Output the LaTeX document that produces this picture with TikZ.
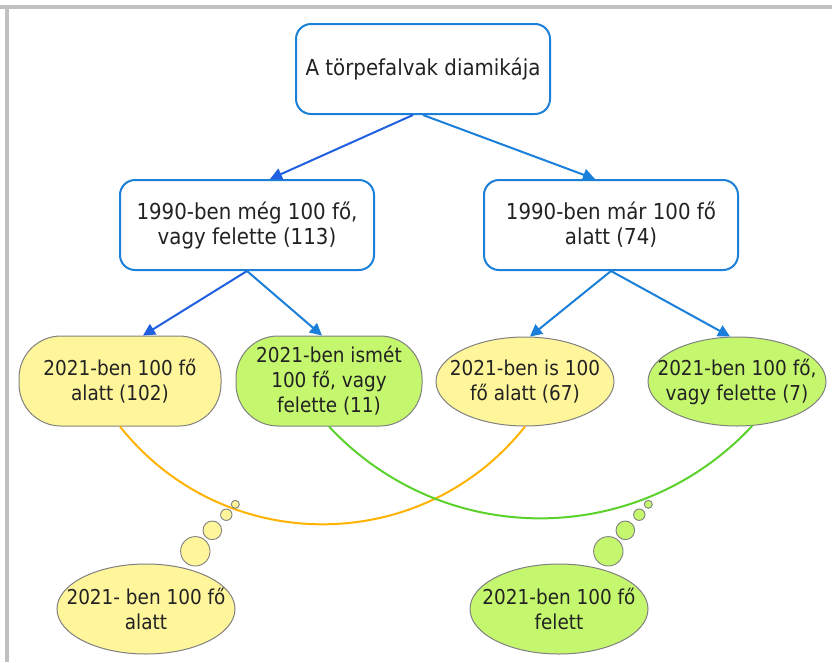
\documentclass[tikz,border=0pt]{standalone}
\usepackage{fontspec}
\setmainfont{DejaVu Sans}[FakeStretch=0.9]
\usetikzlibrary{arrows.meta,shapes.geometric}
\definecolor{boxblue}{RGB}{27,128,214}
\definecolor{darkblue}{RGB}{31,95,224}
\definecolor{lightblue}{RGB}{26,127,216}
\definecolor{yfill}{RGB}{255,246,155}
\definecolor{gfill}{RGB}{196,247,110}
\definecolor{oarc}{RGB}{255,178,0}
\definecolor{garc}{RGB}{91,210,44}
\definecolor{shapegray}{RGB}{128,128,128}
\definecolor{framegray}{RGB}{192,192,192}
\definecolor{txt}{RGB}{34,34,34}
\begin{document}
\begin{tikzpicture}[x=1pt,y=-1pt,
  bluebox/.style={draw=boxblue,line width=2pt,rounded corners=15pt,minimum width=254pt,minimum height=90pt,inner sep=0pt,align=center,text=txt,font=\fontsize{22}{25}\selectfont},
  pill/.style={draw=shapegray,line width=1pt,rounded corners=42pt,minimum height=90pt,inner sep=0pt,align=center,text=txt,font=\fontsize{20.5}{25}\selectfont},
  ell/.style={ellipse,draw=shapegray,line width=1pt,minimum width=178pt,minimum height=89pt,inner sep=0pt},
  lbl/.style={align=center,text=txt,font=\fontsize{20.5}{25}\selectfont},
  bub/.style={circle,draw=shapegray,line width=0.9pt,inner sep=0pt},
  arrdark/.style={draw=darkblue,line width=2pt,-{Triangle[length=12pt,width=12pt]}},
  arrlight/.style={draw=lightblue,line width=2pt,-{Triangle[length=12pt,width=12pt]}},
  arcline/.style={line width=2pt}
]
\useasboundingbox (0,0) rectangle (832,662);
% frame
\draw[framegray,line width=3.5pt] (0,7) -- (832,7);
\draw[framegray,line width=3.5pt] (7,7) -- (7,662);

% boxes
\node[bluebox] (top) at (423,69) {A törpefalvak diamikája};
\node[bluebox] (lb) at (247,225) {1990-ben még 100 fő,\\vagy felette (113)};
\node[bluebox] (rb) at (611,225) {1990-ben már 100 fő\\alatt (74)};

% row 3
\node[pill,fill=yfill,minimum width=202pt] (y1) at (120,381) {2021-ben 100 fő\\alatt (102)};
\node[pill,fill=gfill,minimum width=186pt] (g1) at (329,381) {2021-ben ismét\\100 fő, vagy\\felette (11)};
\node[ell,fill=yfill,label={[lbl]center:2021-ben is 100\\fő alatt (67)}] (ye) at (525,381.5) {};
\node[ell,fill=gfill,label={[lbl]center:2021-ben 100 fő,\\vagy felette (7)}] (ge) at (737,381.5) {};

% arrows
\draw[arrdark] ([xshift=-10pt]top.south) -- ([xshift=23pt]lb.north);
\draw[arrlight] (top.south) -- ([xshift=-16pt]rb.north);
\draw[arrdark] (lb.south) -- ([xshift=23pt]y1.north);
\draw[arrlight] (lb.south) -- ([xshift=-7pt]g1.north);
\draw[arrlight] (rb.south) -- ([xshift=5pt]ye.north);
\draw[arrlight] (rb.south) -- ([xshift=-7pt]ge.north);

% arcs
\draw[arcline,draw=oarc] (y1.south) .. controls +(103.3,130.4) and +(-103.3,130.4) .. (ye.south);
\draw[arcline,draw=garc] (g1.south) .. controls +(114.7,122.9) and +(-114.7,122.9) .. (ge.-71);

% thought bubbles
\node[bub,fill=yfill,minimum size=8pt] (lb1) at (235.3,504.3) {};
\node[bub,fill=yfill,minimum size=11.4pt] (lb2) at (226.3,514.7) {};
\node[bub,fill=yfill,minimum size=18.6pt] (lb3) at (212.3,530.3) {};
\node[bub,fill=yfill,minimum size=29.4pt] (lb4) at (195.3,551.3) {};
\node[ell,fill=yfill,minimum height=90pt,label={[lbl]center:2021- ben 100 fő\\alatt}] (by) at (146,609) {};

\node[bub,fill=gfill,minimum size=8pt] (rb1) at (648.3,504.3) {};
\node[bub,fill=gfill,minimum size=11.4pt] (rb2) at (639.3,514.7) {};
\node[bub,fill=gfill,minimum size=18.6pt] (rb3) at (625.3,530.3) {};
\node[bub,fill=gfill,minimum size=29.4pt] (rb4) at (608.3,551.3) {};
\node[ell,fill=gfill,minimum height=90pt,label={[lbl]center:2021-ben 100 fő\\felett}] (bg) at (559,609) {};
\end{tikzpicture}
\end{document}
